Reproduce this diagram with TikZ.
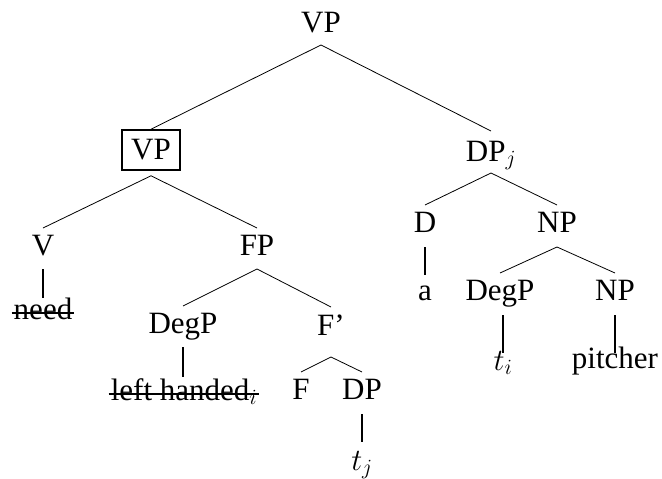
\documentclass[tikz,border=0pt]{standalone}
\usepackage{fix-cm}
\usepackage{fontspec}
\setmainfont{Liberation Serif}
\begin{document}
\begin{tikzpicture}[x=1pt,y=-1pt,
  lbl/.style={inner sep=0pt, anchor=base, font=\fontsize{31}{37}\selectfont},
  stk/.style={lbl, inner xsep=2pt},
  br/.style={line width=0.8pt},
  vl/.style={line width=1.3pt},
  strk/.style={line width=1.1pt}]
\useasboundingbox (0,0) rectangle (662,479);
% nodes
\node[lbl] (vp) at (321,32) {VP};
\node[draw, line width=1.6pt, minimum width=58pt, minimum height=40pt, inner sep=0pt,
      font=\fontsize{31}{37}\selectfont] (vpb) at (151,150) {VP};
\node[lbl] (dpj) at (491,161) {DP$_j$};
\node[lbl] (v) at (43,255) {V};
\node[lbl] (fp) at (257,255) {FP};
\node[stk] (need) at (43,319) {need};
\node[lbl] (degp) at (183,333) {DegP};
\node[lbl] (fpr) at (331,335) {F'};
\node[stk] (lh) at (184,400) {left handed$_i$};
\node[lbl] (f) at (301,399) {F};
\node[lbl] (dp) at (362,399) {DP};
\node[lbl] (tj) at (362,470) {$t_j$};
\node[lbl] (d) at (425,232) {D};
\node[lbl] (np) at (557,232) {NP};
\node[lbl] (a) at (425,300) {a};
\node[lbl] (degpb) at (500,300) {DegP};
\node[lbl] (npb) at (615,300) {NP};
\node[lbl] (ti) at (503,370) {$t_i$};
\node[lbl] (pit) at (615,368) {pitcher};
% branches
\draw[br] (vpb.north) -- ([yshift=-13pt]vp.base) -- ([yshift=30pt]dpj.base);
\draw[br] ([yshift=27pt]v.base) -- ([yshift=-5pt]vpb.south) -- ([yshift=27pt]fp.base);
\draw[br] ([yshift=27pt]degp.base) -- ([yshift=-14pt]fp.base) -- ([yshift=28pt]fpr.base);
\draw[br] ([yshift=27pt]f.base) -- ([yshift=-22pt]fpr.base) -- ([yshift=27pt]dp.base);
\draw[br] ([yshift=27pt]d.base) -- ([yshift=-12pt]dpj.base) -- ([yshift=27pt]np.base);
\draw[br] ([yshift=27pt]degpb.base) -- ([yshift=-15pt]np.base) -- ([yshift=27pt]npb.base);
% vertical lines (straight down from the parent)
\draw[vl] ([yshift=-14pt]v.base) -- ([yshift=21pt]v.base |- need.base);
\draw[vl] ([yshift=-14pt]degp.base) -- ([yshift=23pt]degp.base |- lh.base);
\draw[vl] ([yshift=-15pt]dp.base) -- ([yshift=28pt]dp.base |- tj.base);
\draw[vl] ([yshift=-15pt]d.base) -- ([yshift=25pt]d.base |- a.base);
\draw[vl] ([xshift=3pt,yshift=-15pt]degpb.base) -- ([yshift=17pt]ti.base);
\draw[vl] ([yshift=-15pt]npb.base) -- ([yshift=15pt]npb.base |- pit.base);
% strike-throughs
\draw[strk] ([yshift=6pt]need.base west) -- ([yshift=6pt]need.base east);
\draw[strk] ([yshift=6pt]lh.base west) -- ([yshift=6pt]lh.base east);
\end{tikzpicture}
\end{document}
